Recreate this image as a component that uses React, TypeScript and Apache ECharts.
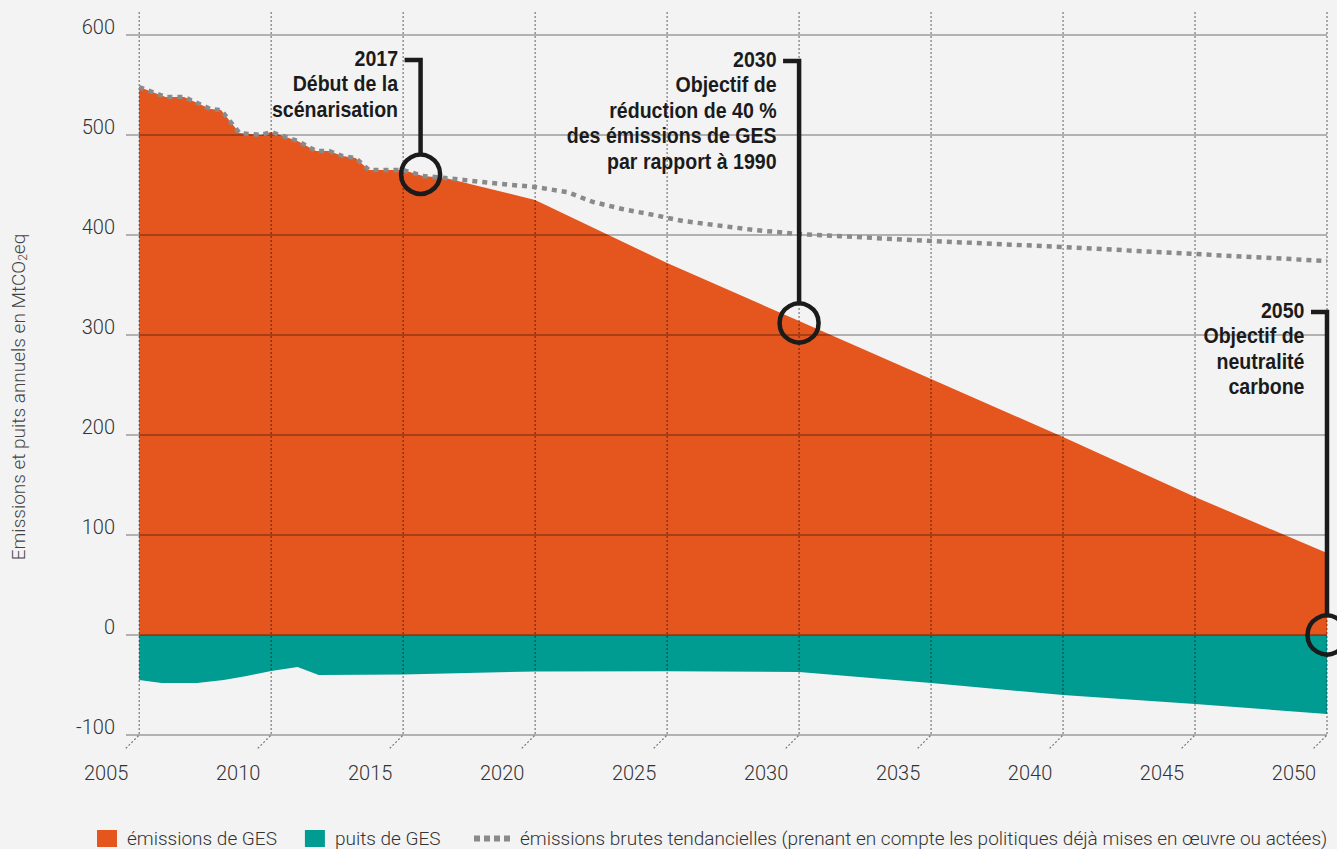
import React, { useEffect, useRef } from "react";
import * as echarts from "echarts";

// ---------- data ----------
const emissionsYears = [2005, 2006, 2006.7, 2007.7, 2008.1, 2008.8, 2009.6, 2010, 2011, 2011.7, 2012.2, 2012.7, 2013.2, 2013.7, 2015, 2015.75, 2016.6, 2020, 2025, 2030, 2035, 2040, 2045, 2050];
const emissionsValues = [548, 538, 538, 526, 525, 502, 500, 503, 494, 484, 484, 479, 477, 465, 465, 459, 457, 435, 372, 314, 256, 198, 138, 82];

const sinkYears = [2005, 2005.85, 2007.2, 2008.2, 2009.07, 2010, 2011, 2011.8, 2015, 2020, 2025, 2030, 2035, 2040, 2045, 2050];
const sinkValues = [-45, -48, -48, -45, -41, -36, -32, -40, -39.5, -36.5, -36.3, -37, -48, -60, -69, -79];

const trendYears = [2005, 2006, 2006.7, 2007.7, 2008.1, 2008.8, 2009.6, 2010, 2011, 2011.7, 2012.2, 2012.7, 2013.2, 2013.7, 2015, 2015.75, 2016.6, 2018.7, 2020, 2021.2, 2022.2, 2023.3, 2024.5, 2025.6, 2026.8, 2028.3, 2030, 2035, 2040, 2045, 2050];
const trendValues = [548, 538, 538, 526, 525, 502, 500, 503, 494, 484, 484, 479, 477, 465, 465, 459, 457, 451, 448, 443, 433, 426, 420, 414, 410, 405, 401, 394, 388, 381, 374];

const tickYears = [2005, 2010, 2015, 2020, 2025, 2030, 2035, 2040, 2045, 2050];
const tickLabels = ["2005", "2010", "2015", "2020", "2025", "2030", "2035", "2040", "2045", "2050"];

const annotationYears = [2015.66, 2030, 2050];
const annotationValues = [460.7, 312, 0];
const annotationLabelLevels = [575, 574, 323];
const annotationTexts = [
  "2017\nDébut de la\nscénarisation",
  "2030\nObjectif de\nréduction de 40 %\ndes émissions de GES\npar rapport à 1990",
  "2050\nObjectif de\nneutralité\ncarbone",
];

const NAME_EMIS = "émissions de GES";
const NAME_SINK = "puits de GES";
const NAME_TREND = "émissions brutes tendancielles (prenant en compte les politiques déjà mises en œuvre ou actées)";
const Y_TITLE_MAIN = "Emissions et puits annuels en MtCO";
const Y_TITLE_SUB = "2";
const Y_TITLE_END = "eq";

// ---------- styles ----------
const LIGHT = "Roboto, 'Liberation Sans', sans-serif";
const BOLD = "'Liberation Sans', Arial, sans-serif";
const ORANGE = "#E5551E";
const TEAL = "#009B91";
const INK = "#1b1b1b";
const DOTS_ICON = "path://M0,0h6v6h-6zM10,0h6v6h-6zM20,0h6v6h-6zM30,0h6v6h-6z";

const pairs = (xs: number[], ys: number[]) => xs.map((x, i) => [x, ys[i]]);

export default function App() {
  const ref = useRef<HTMLDivElement>(null);

  useEffect(() => {
    document.body.style.margin = "0";
    const chart = echarts.init(ref.current!, null, { renderer: "svg" });

    const legendText = { fontSize: 19, fontFamily: LIGHT, fontWeight: 300, color: "#333", padding: [0, 0, 0, 5] };

    const option: any = {
      animation: false,
      backgroundColor: "#f3f3f3",
      grid: { left: 126, right: 10, top: 35, bottom: 114 },
      xAxis: {
        type: "value",
        min: 2004.5,
        max: 2050,
        show: false,
      },
      yAxis: {
        type: "value",
        min: -100,
        max: 600,
        interval: 100,
        z: 3,
        axisLine: { show: false },
        axisTick: { show: false },
        splitLine: { lineStyle: { color: "rgba(0,0,0,0.36)", width: 1.5 } },
        axisLabel: {
          margin: 11,
          fontSize: 20,
          fontFamily: LIGHT,
          fontWeight: 300,
          color: "#333",
          verticalAlign: "bottom",
          lineHeight: 16,
        },
      },
      legend: [
        {
          data: [
            { name: NAME_EMIS, icon: "rect" },
            { name: NAME_SINK, icon: "rect" },
          ],
          left: 97,
          top: 829,
          padding: 0,
          itemWidth: 20,
          itemHeight: 17,
          itemGap: 28,
          selectedMode: false,
          textStyle: legendText,
        },
        {
          data: [{ name: NAME_TREND, icon: DOTS_ICON }],
          left: 474,
          top: 829,
          padding: 0,
          itemWidth: 36,
          itemHeight: 17,
          symbolKeepAspect: true,
          selectedMode: false,
          textStyle: legendText,
        },
      ],
      graphic: [
        {
          type: "text",
          x: 18,
          y: 397,
          rotation: Math.PI / 2,
          style: {
            text: `{a|${Y_TITLE_MAIN}}{s|${Y_TITLE_SUB}}{a|${Y_TITLE_END}}`,
            align: "center",
            verticalAlign: "middle",
            rich: {
              a: { fontSize: 19, fontFamily: LIGHT, fontWeight: 300, fill: "#444", lineHeight: 22, verticalAlign: "middle" },
              s: { fontSize: 12, fontFamily: LIGHT, fontWeight: 300, fill: "#444", lineHeight: 22, verticalAlign: "bottom" },
            },
          },
        },
      ],
      series: [
        {
          name: NAME_EMIS,
          type: "line",
          data: pairs(emissionsYears, emissionsValues),
          symbol: "none",
          color: ORANGE,
          lineStyle: { width: 0 },
          areaStyle: { color: ORANGE, opacity: 1 },
          z: 1,
        },
        {
          name: NAME_SINK,
          type: "line",
          data: pairs(sinkYears, sinkValues),
          symbol: "none",
          color: TEAL,
          lineStyle: { width: 0 },
          areaStyle: { color: TEAL, opacity: 1 },
          z: 1,
        },
        {
          name: NAME_TREND,
          type: "line",
          data: pairs(trendYears, trendValues),
          symbol: "none",
          color: "#8a8a8a",
          lineStyle: { color: "#8a8a8a", width: 4.5, type: [5, 5], cap: "butt" },
          z: 6,
        },
        {
          type: "custom",
          clip: false,
          silent: true,
          z: 5,
          data: tickYears.map((y) => [y, 0]),
          renderItem: (params: any, api: any) => {
            const yr = api.value(0);
            const top = api.coord([yr, 600]);
            const bot = api.coord([yr, -100]);
            return {
              type: "group",
              children: [
                {
                  type: "polyline",
                  shape: { points: [[top[0], top[1] - 23], [bot[0], bot[1]], [bot[0] - 14, bot[1] + 14]] },
                  style: { stroke: "rgba(0,0,0,0.5)", lineWidth: 1.2, lineDash: [2, 2], fill: null },
                },
                {
                  type: "text",
                  style: {
                    text: tickLabels[params.dataIndex],
                    x: bot[0] - 33,
                    y: bot[1] + 38,
                    align: "center",
                    verticalAlign: "middle",
                    fontSize: 20,
                    fontFamily: LIGHT,
                    fontWeight: 300,
                    fill: "#333",
                  },
                },
              ],
            };
          },
        },
        {
          type: "custom",
          clip: false,
          silent: true,
          z: 20,
          data: annotationYears.map((x, i) => [x, annotationValues[i], annotationLabelLevels[i]]),
          encode: { x: 0, y: 1 },
          renderItem: (params: any, api: any) => {
            const i = params.dataIndex;
            const c = api.coord([api.value(0), api.value(1)]);
            const s = api.coord([api.value(0), api.value(2)]);
            const r = 19.5;
            return {
              type: "group",
              children: [
                {
                  type: "circle",
                  shape: { cx: c[0], cy: c[1], r },
                  style: { fill: "none", stroke: INK, lineWidth: 4.5 },
                },
                {
                  type: "polyline",
                  shape: { points: [[c[0] - 16, s[1]], [c[0], s[1]], [c[0], c[1] - r]] },
                  style: { fill: "none", stroke: INK, lineWidth: 4.5, lineJoin: "miter" },
                },
                {
                  type: "text",
                  x: c[0] - 22.5,
                  y: s[1] - 2 - 12.75,
                  scaleX: 0.91,
                  style: {
                    text: annotationTexts[i],
                    x: 0,
                    y: 0,
                    align: "right",
                    verticalAlign: "top",
                    fontSize: 21.5,
                    lineHeight: 25.5,
                    fontFamily: BOLD,
                    fontWeight: "bold",
                    fill: INK,
                  },
                },
              ],
            };
          },
        },
      ],
    };

    chart.setOption(option);
    return () => chart.dispose();
  }, []);

  return <div ref={ref} style={{ width: 1337, height: 849 }} />;
}
